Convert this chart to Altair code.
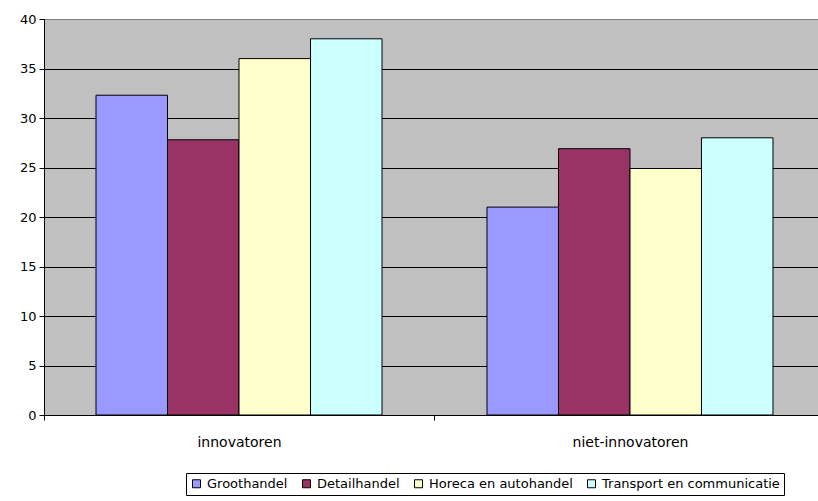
import altair as alt
import pandas as pd

# Share per sector, split by innovating / non-innovating firms
groups = ["innovatoren", "niet-innovatoren"]
sectors = ["Groothandel", "Detailhandel", "Horeca en autohandel", "Transport en communicatie"]
innovatoren = [32.3, 27.8, 36.0, 38.0]
niet_innovatoren = [21.0, 26.9, 24.9, 28.0]
sector_colors = ["#9999FF", "#993366", "#FFFFCC", "#CCFFFF"]
y_ticks = [0, 5, 10, 15, 20, 25, 30, 35, 40]

rows = []
for g, vals in zip(groups, [innovatoren, niet_innovatoren]):
    for i, (s, v) in enumerate(zip(sectors, vals)):
        rows.append({"groep": g, "sector": s, "order": i, "waarde": v})
df = pd.DataFrame(rows)

font = "DejaVu Sans"

bars = alt.Chart(df).mark_bar(stroke="black", strokeWidth=1).encode(
    x=alt.X(
        "groep:N",
        sort=groups,
        scale=alt.Scale(paddingInner=0.2685, paddingOuter=0.133, range=[0, 781]),
        axis=alt.Axis(
            title=None,
            labelAngle=0,
            labelFont=font,
            labelFontSize=14,
            labelColor="black",
            labelPadding=15,
            labelOffset=195.5,
            domainColor="black",
            domainWidth=1,
            tickColor="black",
            tickSize=5,
            tickOffset=-195.5,
            grid=False,
        ),
    ),
    xOffset=alt.XOffset("sector:N", sort=sectors, scale=alt.Scale(paddingInner=0, paddingOuter=0)),
    y=alt.Y(
        "waarde:Q",
        scale=alt.Scale(domain=[0, 40], nice=False),
        axis=alt.Axis(
            title=None,
            values=y_ticks,
            labelFont=font,
            labelFontSize=13,
            labelColor="black",
            labelPadding=3,
            domainColor="black",
            tickColor="black",
            tickSize=5,
            grid=True,
            gridColor={"condition": {"test": "datum.value >= 40", "value": "#808080"}, "value": "#000000"},
            gridWidth=1,
            gridOpacity=1,
        ),
    ),
    color=alt.Color(
        "sector:N",
        sort=sectors,
        scale=alt.Scale(domain=sectors, range=sector_colors),
        legend=alt.Legend(
            title=None,
            orient="none",
            legendX=142,
            legendY=454,
            direction="horizontal",
            columns=4,
            columnPadding=12,
            symbolType="square",
            symbolSize=64,
            symbolStrokeColor="black",
            symbolStrokeWidth=1,
            labelFont=font,
            labelFontSize=13,
            labelColor="black",
            labelOffset=4,
            labelLimit=400,
            strokeColor="black",
            padding=4,
        ),
    ),
)

chart = bars.properties(
    width=774,
    height=396,
    background="white",
    autosize=alt.AutoSizeParams(type="none"),
    padding={"left": 44, "top": 19, "right": 0, "bottom": 86},
).configure_view(
    fill="#C0C0C0",
    stroke="#808080",
    strokeWidth=1,
)

chart.save("out.html", embed_options={"renderer": "svg", "actions": False})
